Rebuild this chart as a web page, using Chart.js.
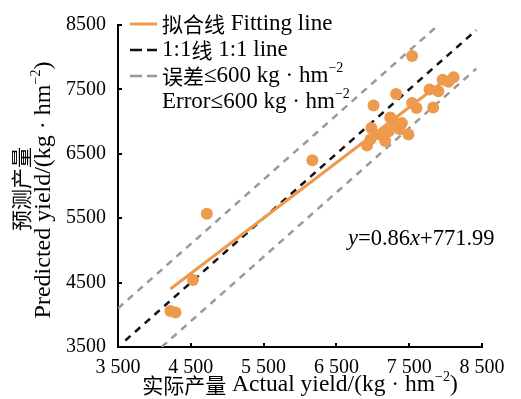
<!DOCTYPE html>
<html>
<head>
<meta charset="utf-8">
<script src="https://cdn.jsdelivr.net/npm/chart.js@4.4.0/dist/chart.umd.min.js"></script>
<style>
  html, body { margin: 0; padding: 0; background: #fff; }
  #wrap { width: 521px; height: 399px; }
</style>
</head>
<body>
<div id="wrap"><canvas id="yieldChart" width="521" height="399"></canvas></div>
<script>
var actualYield = [4220, 4290, 4530, 4720, 6170, 6920, 6970, 6980, 7010, 7100,
                   7170, 7170, 7220, 7240, 7280, 7320, 7370, 7400, 7490, 7540,
                   7540, 7600, 7780, 7830, 7900, 7960, 8040, 8110];
var predictedYield = [4060, 4035, 4540, 5570, 6400, 6630, 6725, 6900, 7250, 6800,
                      6700, 6810, 6850, 7065, 7000, 7430, 6880, 6980, 6800, 8020,
                      7290, 7210, 7500, 7220, 7470, 7650, 7620, 7690];

var xTicks = [3500, 4500, 5500, 6500, 7500, 8500];
var yTicks = [3500, 4500, 5500, 6500, 7500, 8500];

// fitted line y = 0.86x + 771.99 over the range of the data
var fitSlope = 0.86;
var fitIntercept = 771.99;
var fitRange = [4220, 8110];

// reference lines: 1:1 and +/- 600 error band
var errorBand = 600;
var oneToOneRange = [3600, 8420];
var upperRange = [3500, 7900];
var lowerRange = [4100, 8420];

var ORANGE = '#EE9A4D';
var TEXT = '#000';
var SERIF = "'Liberation Serif', serif";
var CJK = "'Noto Sans CJK SC', sans-serif";

var points = actualYield.map(function(v, i) {
    return { x: v, y: predictedYield[i] };
});

function fitLine() {
    return fitRange.map(function(v) { return { x: v, y: fitSlope * v + fitIntercept }; });
}
function offsetLine(range, off) {
    return range.map(function(v) { return { x: v, y: v + off }; });
}

// text made of pieces: chinese, latin, italic, superscript
function segFont(s, latin) {
    if (s.cjk) return '21px ' + CJK;
    if (s.sup) return '14px ' + SERIF;
    return (s.it ? 'italic ' : '') + latin + 'px ' + SERIF;
}
function richWidth(ctx, segs, latin) {
    var w = 0;
    segs.forEach(function(s) { ctx.font = segFont(s, latin); w += ctx.measureText(s.t).width; });
    return w;
}
function drawRich(ctx, segs, x, y, latin, center) {
    if (center) x -= richWidth(ctx, segs, latin) / 2;
    segs.forEach(function(s) {
        ctx.font = segFont(s, latin);
        ctx.fillText(s.t, x, s.sup ? y - 8 : y);
        x += ctx.measureText(s.t).width;
    });
}

var unitSegs = [{ t: 'kg · hm' }, { t: '−2', sup: true }];

var annotations = {
    id: 'annotations',
    afterDraw: function(chart) {
        var ctx = chart.ctx;
        var xs = chart.scales.x, ys = chart.scales.y;
        var area = chart.chartArea;
        ctx.save();

        // inward tick marks
        ctx.strokeStyle = '#000';
        ctx.lineWidth = 2;
        xTicks.forEach(function(v) {
            var px = Math.round(xs.getPixelForValue(v));
            ctx.beginPath();
            ctx.moveTo(px, area.bottom);
            ctx.lineTo(px, area.bottom - 4);
            ctx.stroke();
        });
        yTicks.forEach(function(v) {
            var py = Math.round(ys.getPixelForValue(v));
            ctx.beginPath();
            ctx.moveTo(area.left, py);
            ctx.lineTo(area.left + 4, py);
            ctx.stroke();
        });

        ctx.fillStyle = TEXT;
        ctx.textBaseline = 'middle';
        ctx.textAlign = 'left';

        // x title
        drawRich(ctx, [{ t: '实际产量', cjk: true }, { t: ' Actual yield/(' }].concat(unitSegs, [{ t: ')' }]),
                 300, 385, 23.5, true);

        // y title (two rotated lines)
        ctx.save();
        ctx.translate(21, 189);
        ctx.rotate(-Math.PI / 2);
        drawRich(ctx, [{ t: '预测产量', cjk: true }], 0, 0, 23.5, true);
        ctx.restore();
        ctx.save();
        ctx.translate(44, 190);
        ctx.rotate(-Math.PI / 2);
        drawRich(ctx, [{ t: 'Predicted yield/(' }].concat(unitSegs, [{ t: ')' }]), 0, 0, 24, true);
        ctx.restore();

        // legend
        var items = [
            { y: 24, color: ORANGE, dash: [], width: 3,
              segs: [{ t: '拟合线', cjk: true }, { t: ' Fitting line' }] },
            { y: 50, color: '#111', dash: [12, 5], width: 2.5,
              segs: [{ t: '1:1' }, { t: '线', cjk: true }, { t: ' 1:1 line' }] },
            { y: 76, color: '#999', dash: [12, 5], width: 2.5,
              segs: [{ t: '误差', cjk: true }, { t: '≤600 ' }].concat(unitSegs) }
        ];
        items.forEach(function(it) {
            ctx.beginPath();
            ctx.strokeStyle = it.color;
            ctx.lineWidth = it.width;
            ctx.setLineDash(it.dash);
            ctx.moveTo(130, it.y);
            ctx.lineTo(157, it.y);
            ctx.stroke();
            drawRich(ctx, it.segs, 162, it.y, 23, false);
        });
        ctx.setLineDash([]);
        drawRich(ctx, [{ t: 'Error≤600 ' }].concat(unitSegs), 162, 102, 23, false);

        // regression equation
        drawRich(ctx, [{ t: 'y', it: true }, { t: '=0.86' }, { t: 'x', it: true }, { t: '+771.99' }],
                 348, 239, 22.5, false);
        ctx.restore();
    }
};

var ctx = document.getElementById('yieldChart').getContext('2d');
var chart = new Chart(ctx, {
    type: 'scatter',
    data: {
        datasets: [
            {
                label: 'data',
                data: points,
                backgroundColor: ORANGE,
                borderWidth: 0,
                pointRadius: 6,
                order: 0
            },
            {
                label: 'fit',
                data: fitLine(),
                showLine: true,
                borderColor: ORANGE,
                borderWidth: 3,
                pointRadius: 0,
                order: 1
            },
            {
                label: '1:1',
                data: offsetLine(oneToOneRange, 0),
                showLine: true,
                borderColor: '#111',
                borderWidth: 2.5,
                borderDash: [7, 6],
                pointRadius: 0,
                order: 2
            },
            {
                label: '+600',
                data: offsetLine(upperRange, errorBand),
                showLine: true,
                borderColor: '#999',
                borderWidth: 2.5,
                borderDash: [7, 6],
                pointRadius: 0,
                order: 3
            },
            {
                label: '-600',
                data: offsetLine(lowerRange, -errorBand),
                showLine: true,
                borderColor: '#999',
                borderWidth: 2.5,
                borderDash: [7, 6],
                pointRadius: 0,
                order: 4
            }
        ]
    },
    options: {
        responsive: false,
        animation: false,
        devicePixelRatio: 1,
        layout: { padding: { top: 25, right: 39, left: 0, bottom: 0 } },
        plugins: {
            legend: { display: false },
            tooltip: { enabled: false }
        },
        scales: {
            x: {
                type: 'linear',
                min: 3500,
                max: 8500,
                afterBuildTicks: function(s) { s.ticks = xTicks.map(function(v) { return { value: v }; }); },
                afterFit: function(s) { s.height = 52; },
                grid: { display: false },
                border: { color: '#000', width: 2 },
                ticks: {
                    color: TEXT,
                    padding: 1,
                    maxRotation: 0,
                    font: { family: SERIF, size: 20 },
                    callback: function(v) { return String(v).replace(/(\d)(\d{3})$/, '$1 $2'); }
                }
            },
            y: {
                type: 'linear',
                min: 3500,
                max: 8500,
                afterBuildTicks: function(s) { s.ticks = yTicks.map(function(v) { return { value: v }; }); },
                afterFit: function(s) { s.width = 118; },
                grid: { display: false },
                border: { color: '#000', width: 2 },
                ticks: {
                    color: TEXT,
                    padding: 4,
                    font: { family: SERIF, size: 20 },
                    callback: function(v) { return String(v); }
                }
            }
        }
    },
    plugins: [annotations]
});
</script>
</body>
</html>
